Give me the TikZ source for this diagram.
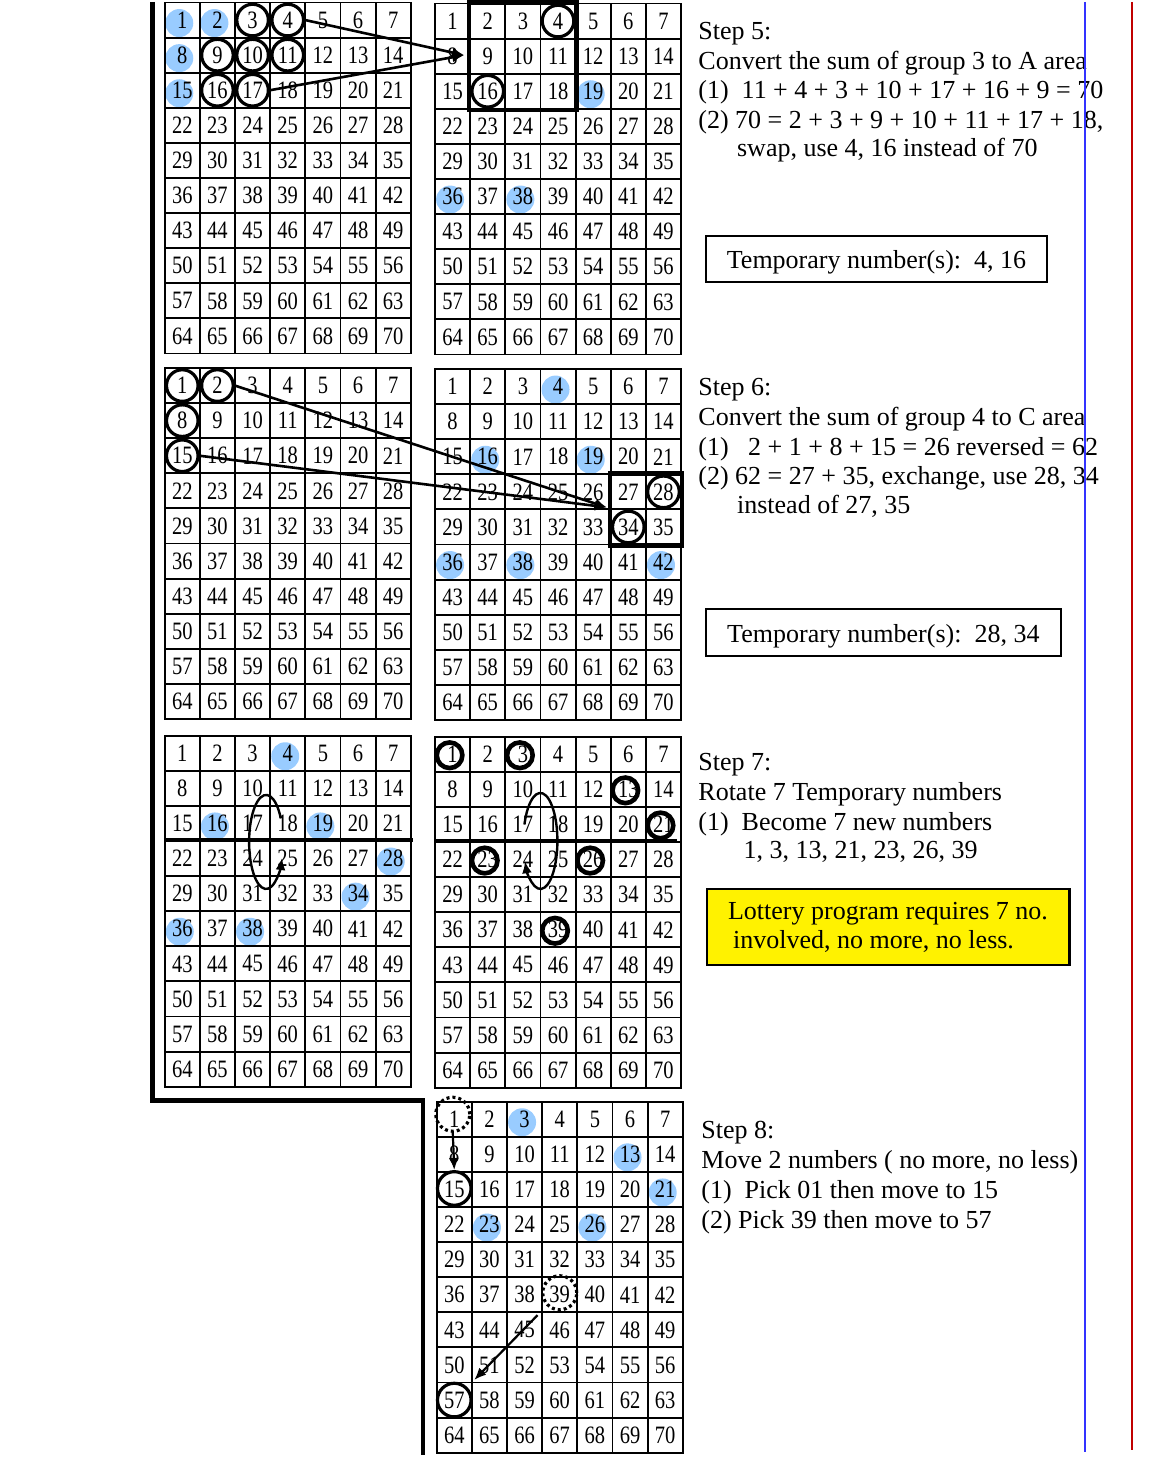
\documentclass[tikz,border=0pt]{standalone}
\usepackage{fontspec}
\setmainfont{Liberation Serif}
\newfontfamily\cellfont[FakeStretch=0.82]{Liberation Serif}
\usetikzlibrary{arrows.meta,calc,backgrounds}

\definecolor{dotblue}{RGB}{153,204,255}
\definecolor{lineblue}{RGB}{51,51,255}
\definecolor{linered}{RGB}{192,0,0}

\newcommand{\cw}{35.15}
\newcommand{\ch}{35.1}
% 7 x 10 board of numbered cells: #1 name, (#2,#3) top left corner
\newcommand{\lottoboard}[3]{%
  \foreach \r in {0,...,9}{%
    \foreach \c in {0,...,6}{%
      \pgfmathtruncatemacro{\k}{7*\r+\c+1}%
      \node[cell] (#1-\k) at ({#2+(\c+0.5)*\cw},{#3+(\r+0.5)*\ch}) {\k};
    }%
  }%
}

\begin{document}
\begin{tikzpicture}[x=0.5pt,y=-0.5pt,>={Latex[length=6pt,width=5pt]},
    cell/.style={draw,line width=0.95pt,minimum width=17.575pt,minimum height=17.55pt,
      inner sep=0pt,font=\cellfont\fontsize{12.5}{12.5}\selectfont},
    ring/.style={circle,draw,line width=1.6pt,minimum size=15.8pt,inner sep=0pt},
    newring/.style={circle,draw,line width=2.3pt,minimum size=12.8pt,inner sep=0pt},
    pickring/.style={circle,draw,line width=1.6pt,minimum size=17pt,inner sep=0pt,
      dash pattern=on 1.5pt off 1.5pt},
    areabox/.style={draw,line width=2.2pt},
    splitline/.style={line width=1.8pt},
    sumarrow/.style={->,line width=1.3pt},
    movearrow/.style={->,line width=1.1pt,shorten <=6.5pt,shorten >=5pt},
    turn/.style={->,line width=1.2pt},
    txt/.style={anchor=base west,inner sep=0pt,font=\fontsize{13}{15}\selectfont},
    tempbox/.style={draw,line width=1pt,inner sep=0pt,font=\fontsize{13}{15}\selectfont,
      text height=12.2pt,text depth=2.8pt},
    notebox/.style={draw,line width=1.2pt,fill=yellow,inner sep=0pt,align=left,
      font=\fontsize{13}{14.5}\selectfont}]
  \useasboundingbox (0,0) rectangle (1154,1459);

  % boards
  \lottoboard{g1}{164.7}{2.5}
  \lottoboard{g2}{435}{3.5}
  \lottoboard{g3}{164.7}{368}
  \lottoboard{g4}{435}{369}
  \lottoboard{g5}{164.7}{735.7}
  \lottoboard{g6}{435}{736.7}
  \lottoboard{g7}{436.7}{1101.7}

  % blue marks behind the numbers
  \begin{scope}[on background layer]
    \foreach \k in {1,2,8,15} \fill[dotblue] ($(g1-\k)+(-3,3)$) circle[radius=14];
    \foreach \k in {19,36,38} \fill[dotblue] ($(g2-\k)+(-2.5,3)$) circle[radius=14];
    \foreach \k in {4,16,19,36,38,42} \fill[dotblue] ($(g4-\k)+(-2.5,3)$) circle[radius=14];
    \foreach \k in {4,16,19,28,34,36,38} \fill[dotblue] ($(g5-\k)+(-2.5,3)$) circle[radius=14];
    \foreach \k in {3,13,21,23,26} \fill[dotblue] ($(g7-\k)+(-2.5,3)$) circle[radius=14];
  \end{scope}

  % step 5
  \foreach \k in {3,4,9,10,11,16,17} \node[ring] (r1-\k) at (g1-\k) {};
  \foreach \k in {4,16} \node[ring] (r2-\k) at (g2-\k) {};
  \draw[areabox] (g2-2.north west) rectangle (g2-18.south east);
  \coordinate (tipA) at ($(g2-9.west)+(-5,-1)$);
  \draw[sumarrow] (r1-4.east) -- (tipA);
  \draw[sumarrow] (r1-17.east) -- (tipA);

  % step 6
  \foreach \k in {1,2,8,15} \node[ring] (r3-\k) at (g3-\k) {};
  \foreach \k in {28,34} \node[ring] (r4-\k) at (g4-\k) {};
  \draw[areabox] (g4-27.north west) rectangle (g4-35.south east);
  \coordinate (tipC) at ($(g4-27.south west)+(-3,-3)$);
  \draw[sumarrow] (r3-2.east) -- (tipC);
  \draw[sumarrow] (r3-15.east) -- (tipC);

  % step 7
  \draw[splitline] (g5-22.north west) -- ($(g5-28.north east)+(1,0)$);
  \draw[turn] ($(g5-17.south east)+(-5,0)$) ++(-30:17 and 47)
    arc[start angle=-30,end angle=-340,x radius=17,y radius=47];
  \draw[splitline] (g6-22.north west) -- ($(g6-28.north east)+(-5,0)$);
  \draw[turn] ($(g6-17.south east)+(-1,-2)$) ++(-160:17 and 48)
    arc[start angle=-160,end angle=155,x radius=17,y radius=48];
  \foreach \k in {1,3,13,21,23,26,39} \node[newring] (r6-\k) at ($(g6-\k)+(-3,1)$) {};

  % step 8
  \node[pickring] (p7-1) at ($(g7-1)+(-1.5,-5)$) {};
  \node[pickring] (p7-39) at ($(g7-39)+(0,-2)$) {};
  \node[ring,minimum size=16.8pt] (r7-15) at ($(g7-15)+(0,-1)$) {};
  \node[ring,minimum size=16.8pt] (r7-57) at (g7-57) {};
  \draw[->,line width=1.1pt] (p7-1.south) -- (r7-15.north);
  \draw[movearrow] (p7-39.south west) -- (r7-57.north east);

  % texts
  \node[txt] (s5a) at (698,39.3) {Step 5:};
  \node[txt] (s5b) at (698,69.3) {Convert the sum of group 3 to A area};
  \node[txt] (s5c) at (698,98.5) {(1)\ \ 11 + 4 + 3 + 10 + 17 + 16 + 9 = 70};
  \node[txt] (s5d) at (698,128.3) {(2) 70 = 2 + 3 + 9 + 10 + 11 + 17 + 18,};
  \node[txt] (s5e) at (736.7,157) {swap, use 4, 16 instead of 70};
  \node[tempbox,minimum width=170.8pt,minimum height=22.85pt] (temp5) at (876.5,258.85)
    {Temporary number(s):\ \ 4, 16};

  \node[txt] (s6a) at (698,396) {Step 6:};
  \node[txt] (s6b) at (698,425.7) {Convert the sum of group 4 to C area};
  \node[txt] (s6c) at (698,455.7) {(1)\ \ \ 2 + 1 + 8 + 15 = 26 reversed = 62};
  \node[txt] (s6d) at (698,485) {(2) 62 = 27 + 35, exchange, use 28, 34};
  \node[txt] (s6e) at (736.7,514) {instead of 27, 35};
  \node[tempbox,minimum width=177.65pt,minimum height=23.35pt] (temp6) at (883.35,632.65)
    {Temporary number(s):\ \ 28, 34};

  \node[txt] (s7a) at (698,770) {Step 7:};
  \node[txt] (s7b) at (698,800) {Rotate 7 Temporary numbers};
  \node[txt] (s7c) at (698,830) {(1)\ \ Become 7 new numbers};
  \node[txt] (s7d) at (743.3,858.3) {1, 3, 13, 21, 23, 26, 39};
  \node[notebox,minimum width=181.3pt,minimum height=38pt] (note7) at (888,927)
    {Lottery program requires 7 no.\\\hspace*{2.5pt}involved, no more, no less.};

  \node[txt] (s8a) at (701,1138.3) {Step 8:};
  \node[txt] (s8b) at (701,1168.3) {Move 2 numbers ( no more, no less)};
  \node[txt] (s8c) at (701,1198.3) {(1)\ \ Pick 01 then move to 15};
  \node[txt] (s8d) at (701,1228.3) {(2) Pick 39 then move to 57};

  % frame lines
  \draw[line width=2.25pt] (152.5,2) -- (152.5,1100.5) -- (423,1100.5) -- (423,1455);
  \draw[lineblue,line width=1pt] (1085,2) -- (1085,1452);
  \draw[linered,line width=1pt] (1132,2) -- (1132,1450);
\end{tikzpicture}
\end{document}
